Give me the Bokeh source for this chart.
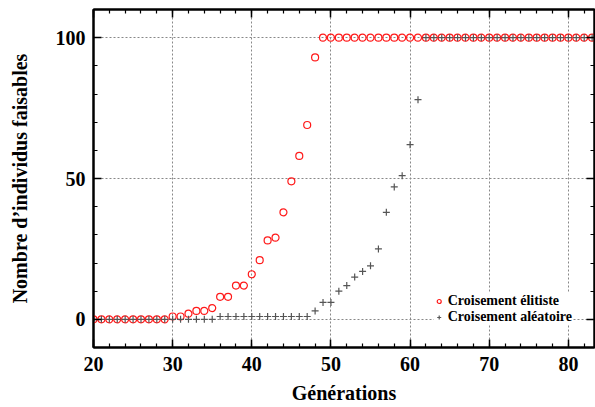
from bokeh.plotting import figure
from bokeh.models import (LinearAxis, SingleIntervalTicker, Range1d, Legend, LegendItem,
                          CustomJSTickFormatter)
from bokeh.embed import file_html
from bokeh.resources import INLINE

generations = list(range(20, 84))
elitiste = ([0] * 10 +
            [1, 1, 2, 3, 3, 4, 8, 8, 12, 12, 16, 21, 28, 29, 38, 49, 58, 69, 93] +
            [100] * 35)
aleatoire = ([0] * 16 + [1] * 12 +
             [3, 6, 6, 10, 12, 15, 17, 19, 25, 38, 47, 51, 62, 78] +
             [100] * 22)

label_elitiste = "Croisement élitiste"
label_aleatoire = "Croisement aléatoire"
x_title = "Générations"
y_title = "Nombre d\u2019individus faisables"

FONT = "Liberation Serif"

p = figure(width=595, height=407, output_backend="svg", toolbar_location=None,
           x_range=Range1d(20, 83.3), y_range=Range1d(-10, 110),
           min_border_left=93, min_border_right=1, min_border_top=9,
           min_border_bottom=60)
p.outline_line_color = "black"
p.outline_line_width = 2
p.background_fill_color = "white"
p.border_fill_color = "white"

r1 = p.scatter(generations, elitiste, marker="circle", size=7,
               fill_color=None, line_color="#ff1a1a", line_width=1.2)
r2 = p.scatter(generations, aleatoire, marker="cross", size=7,
               line_color="#555555", line_width=1.2)

xt = SingleIntervalTicker(interval=10, num_minor_ticks=5)
yt = SingleIntervalTicker(interval=50, num_minor_ticks=5)

for ax in p.xaxis:
    ax.ticker = xt
for ax in p.yaxis:
    ax.ticker = yt

p.xgrid.ticker = xt
p.ygrid.ticker = yt
for g in (p.xgrid[0], p.ygrid[0]):
    g.grid_line_color = "#888888"
    g.grid_line_dash = "2 2"
    g.grid_line_width = 1

def style_axis(ax, labels=True):
    ax.axis_line_color = "black"
    ax.axis_line_width = 2
    ax.major_tick_line_color = "black"
    ax.minor_tick_line_color = "black"
    ax.major_tick_line_width = 1.5
    ax.minor_tick_line_width = 1.2
    ax.major_tick_in = 8
    ax.major_tick_out = 0
    ax.minor_tick_in = 4
    ax.minor_tick_out = 0
    if labels:
        ax.major_label_text_font = FONT
        ax.major_label_text_font_style = "bold"
        ax.major_label_text_font_size = "20px"
        ax.major_label_text_color = "black"
        ax.axis_label_text_font = FONT
        ax.axis_label_text_font_style = "bold"
        ax.axis_label_text_font_size = "20px"
        ax.axis_label_text_color = "black"
    else:
        ax.formatter = CustomJSTickFormatter(code="return '';")
        ax.major_label_standoff = 0

style_axis(p.xaxis[0])
style_axis(p.yaxis[0])
p.xaxis[0].axis_label = x_title
p.yaxis[0].axis_label = y_title
p.xaxis[0].major_label_standoff = 9
p.xaxis[0].axis_label_standoff = 8
p.yaxis[0].major_label_standoff = 8
p.yaxis[0].axis_label_standoff = 22

top = LinearAxis(ticker=SingleIntervalTicker(interval=10, num_minor_ticks=5))
right = LinearAxis(ticker=SingleIntervalTicker(interval=50, num_minor_ticks=5))
style_axis(top, labels=False)
style_axis(right, labels=False)
p.add_layout(top, "above")
p.add_layout(right, "right")

legend = Legend(items=[LegendItem(label=label_elitiste, renderers=[r1]),
                       LegendItem(label=label_aleatoire, renderers=[r2])],
                location="bottom_right")
legend.label_text_font = FONT
legend.label_text_font_style = "bold"
legend.label_text_font_size = "14px"
legend.label_text_color = "black"
legend.label_height = 12
legend.glyph_height = 12
legend.glyph_width = 10
legend.label_standoff = 4
legend.spacing = -3
legend.padding = 2
legend.margin = 22
legend.border_line_color = None
legend.background_fill_color = "white"
legend.background_fill_alpha = 1
p.add_layout(legend)

open("out.html", "w").write(file_html(p, INLINE))
